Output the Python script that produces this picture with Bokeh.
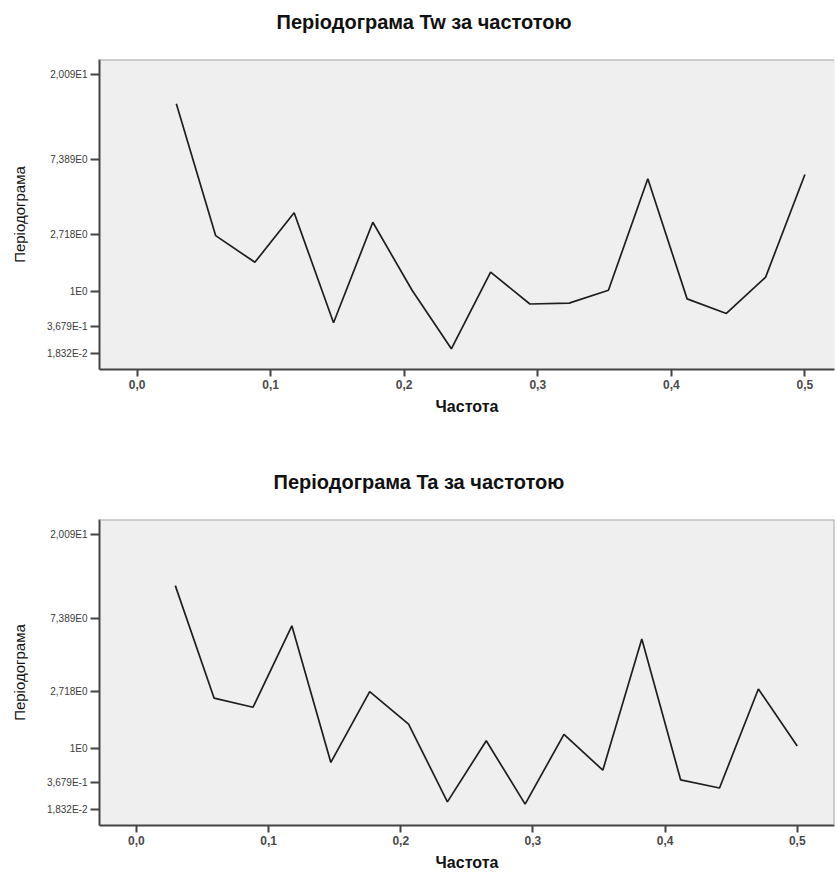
import numpy as np
from bokeh.plotting import figure
from bokeh.layouts import column
from bokeh.models import FixedTicker, CustomJSTickFormatter, Span, Range1d, Title
from bokeh.embed import file_html
from bokeh.resources import INLINE

# ---- data ----
freq = [0.0294, 0.0588, 0.0882, 0.1176, 0.1471, 0.1765, 0.2059, 0.2353, 0.2647,
        0.2941, 0.3235, 0.3529, 0.3824, 0.4118, 0.4412, 0.4706, 0.5000]
tw_periodogram = [14.33, 2.66, 1.74, 3.69, 0.42, 3.23, 1.02, 0.069, 1.46,
                  0.74, 0.756, 1.02, 5.79, 0.84, 0.57, 1.33, 6.11]
ta_periodogram = [10.98, 2.47, 2.14, 6.70, 0.71, 2.73, 1.61, 0.108, 1.17,
                  0.081, 1.33, 0.57, 5.66, 0.41, 0.29, 2.84, 1.05]
y_tick_values = [20.09, 7.389, 2.718, 1.0, 0.3679, 0.01832]
y_tick_labels = ["2,009E1", "7,389E0", "2,718E0", "1E0", "3,679E-1", "1,832E-2"]
x_ticks = [0.0, 0.1, 0.2, 0.3, 0.4, 0.5]
titles = ["Періодограма Tw за частотою", "Періодограма Ta за частотою"]
x_label = "Частота"
y_label = "Періодограма"

W = 837


def make_panel(title, values, height, b_top, b_bottom, b_left, b_right,
               x_start, x_end, right_border, title_offset):
    y_start, y_end = -0.158, 3.2116
    p = figure(width=W, height=height, output_backend="svg", toolbar_location=None,
               x_range=Range1d(x_start, x_end), y_range=Range1d(y_start, y_end),
               min_border_top=b_top, min_border_bottom=b_bottom,
               min_border_left=b_left, min_border_right=b_right)
    p.title = Title(text=title, align="left", offset=title_offset, standoff=10,
                    text_font="Liberation Sans", text_font_style="bold",
                    text_font_size="20px", text_color="#111111")
    # spacer between title and frame
    p.add_layout(Title(text=" ", text_font_size="18px", standoff=0), "above")
    p.background_fill_color = "#efefef"
    p.border_fill_color = "white"
    p.outline_line_color = None
    p.grid.grid_line_color = None

    p.line(freq, np.log1p(values), line_color="#1e1e1e", line_width=1.7)

    # x axis
    xa = p.xaxis[0]
    xa.ticker = FixedTicker(ticks=x_ticks)
    xa.formatter = CustomJSTickFormatter(code="return tick.toFixed(1).replace('.', ',')")
    xa.axis_line_color = "#444444"
    xa.axis_line_width = 2
    xa.major_tick_line_color = "#444444"
    xa.major_tick_line_width = 2
    xa.major_tick_in = 0
    xa.major_tick_out = 7
    xa.minor_tick_line_color = None
    xa.major_label_standoff = 3
    xa.major_label_text_font = "Liberation Sans"
    xa.major_label_text_font_style = "bold"
    xa.major_label_text_font_size = "12px"
    xa.major_label_text_color = "#4a4a4a"
    xa.axis_label = x_label
    xa.axis_label_text_font = "Liberation Sans"
    xa.axis_label_text_font_style = "bold"
    xa.axis_label_text_font_size = "16px"
    xa.axis_label_text_color = "#111111"
    xa.axis_label_standoff = 6

    # y axis
    ticks_u = [float(v) for v in np.log1p(y_tick_values)]
    ya = p.yaxis[0]
    ya.ticker = FixedTicker(ticks=ticks_u)
    ya.formatter = CustomJSTickFormatter(
        args=dict(t=ticks_u, l=y_tick_labels),
        code="""
        let b = 0, d = 1e9;
        for (let i = 0; i < t.length; i++) {
            const e = Math.abs(t[i] - tick);
            if (e < d) { d = e; b = i; }
        }
        return l[b];
        """)
    ya.axis_line_color = "#444444"
    ya.axis_line_width = 2
    ya.major_tick_line_color = "#444444"
    ya.major_tick_line_width = 2
    ya.major_tick_in = 0
    ya.major_tick_out = 9
    ya.minor_tick_line_color = None
    ya.major_label_standoff = 3
    ya.major_label_text_font = "Liberation Sans"
    ya.major_label_text_font_size = "10px"
    ya.major_label_text_color = "#3a3a3a"
    ya.axis_label = y_label
    ya.axis_label_text_font = "Liberation Sans"
    ya.axis_label_text_font_style = "normal"
    ya.axis_label_text_font_size = "15px"
    ya.axis_label_text_color = "#111111"
    ya.axis_label_standoff = 16

    # frame borders (top always, right only where visible)
    p.add_layout(Span(location=y_end, dimension="width", line_color="#a8a8a8", line_width=2))
    if right_border:
        p.add_layout(Span(location=x_end, dimension="height", line_color="#a8a8a8", line_width=2))
    return p


p1 = make_panel(titles[0], tw_periodogram, 440, 59, 71, 99, 0, -0.02813, 0.52216, False, 177)
p2 = make_panel(titles[1], ta_periodogram, 433, 79, 44, 98, 3, -0.02795, 0.5282, True, 174)

layout = column(p1, p2, spacing=0)
open("out.html", "w").write(file_html(layout, INLINE))
